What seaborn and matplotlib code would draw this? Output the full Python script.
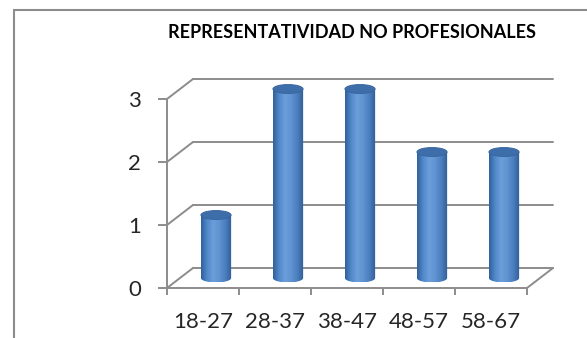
import numpy as np
import matplotlib
matplotlib.use("Agg")
import matplotlib.pyplot as plt
import seaborn as sns
from matplotlib.colors import LinearSegmentedColormap
from matplotlib.patches import Ellipse, Polygon
from matplotlib.lines import Line2D

# datos
grupos = ["18-27", "28-37", "38-47", "48-57", "58-67"]
personas = [1, 3, 3, 2, 2]
marcas_y = [0, 1, 2, 3]
titulo = "REPRESENTATIVIDAD NO PROFESIONALES"

sns.set_style("white")
plt.rcParams['font.family'] = ['Lato', 'DejaVu Sans']

gris = "#8c8c8c"
prof_x = 26 / 72   # profundidad del cuadro 3D (unidades de categoria)
prof_y = 20 / 63   # profundidad del cuadro 3D (unidades de valor)
alto_elipse = 9 / 63

fig = plt.figure(figsize=(5.87, 3.38), dpi=100)
ax = fig.add_axes([167 / 587, 50 / 338, 393 / 587, 218 / 338])

sns.barplot(x=grupos, y=personas, width=0.42, color="#4f81bd", ax=ax)

# pared del fondo y diagonales
x_izq, x_der = -0.5, len(grupos) - 0.5
for v in marcas_y:
    ax.plot([x_izq, x_izq + prof_x], [v, v + prof_y], color=gris, lw=1.4,
            clip_on=False, zorder=1)
    ax.plot([x_izq + prof_x, x_der + prof_x], [v + prof_y, v + prof_y],
            color=gris, lw=1.4, clip_on=False, zorder=1)
ax.plot([x_der, x_der + prof_x], [0, prof_y], color=gris, lw=1.4,
        clip_on=False, zorder=1)

# cilindros con degradado
cmap = LinearSegmentedColormap.from_list(
    "cil", ["#30609b", "#5089ca", "#6c9edb", "#5f92d1", "#4a7dbc", "#2f5c94"])
grad = np.linspace(0, 1, 256).reshape(1, -1)
for p in list(ax.patches):
    w = p.get_width()
    cx = p.get_x() + w / 2 + prof_x / 2
    base = prof_y / 2
    top = base + p.get_height()
    p.set_visible(False)
    t = np.linspace(np.pi, 2 * np.pi, 40)
    pts = [(cx - w / 2, top)]
    pts += list(zip(cx + w / 2 * np.cos(t), base + alto_elipse / 2 * np.sin(t)))
    pts += [(cx + w / 2, top)]
    forma = Polygon(pts, closed=True, facecolor="none", edgecolor="none")
    ax.add_patch(forma)
    img = ax.imshow(grad, cmap=cmap, aspect="auto", zorder=3,
                    extent=[cx - w / 2, cx + w / 2, base - alto_elipse / 2, top])
    img.set_clip_path(forma)
    ax.add_patch(Ellipse((cx, top), w, alto_elipse, facecolor="#3e6eaa",
                         edgecolor="#36639c", lw=0.6, zorder=4))

ax.set_xlim(-0.5, -0.5 + 393 / 72)
ax.set_ylim(0, 218 / 63)

# ejes
for s in ["top", "right"]:
    ax.spines[s].set_visible(False)
ax.spines["left"].set_bounds(0, 3)
ax.spines["bottom"].set_bounds(x_izq, x_der)
for s in ["left", "bottom"]:
    ax.spines[s].set_color(gris)
    ax.spines[s].set_linewidth(1.4)

ax.set_yticks(marcas_y)
ax.set_yticklabels([str(v) for v in marcas_y])
ax.tick_params(axis="y", which="major", length=6.5, width=1.4, color=gris,
               pad=12, labelsize=16, left=True)

ax.set_xticks(np.arange(len(grupos) + 1) - 0.5)
ax.set_xticklabels([])
ax.set_xticks(np.arange(len(grupos)), minor=True)
ax.set_xticklabels(grupos, minor=True)
ax.tick_params(axis="x", which="major", length=5, width=1.4, color=gris,
               bottom=True)
ax.tick_params(axis="x", which="minor", length=0, pad=17, labelsize=16)
ax.set_xlabel("")
ax.set_ylabel("")

# titulo y marco
fig.text(352 / 587, 1 - 32 / 338, titulo, ha="center", va="center",
         fontsize=13, fontweight="bold", color="black")
fig.add_artist(Line2D([14 / 587, 1], [1 - 10 / 338, 1 - 10 / 338],
                      color=gris, lw=1.5, transform=fig.transFigure))
fig.add_artist(Line2D([14 / 587, 14 / 587], [0, 1 - 10 / 338],
                      color=gris, lw=1.5, transform=fig.transFigure))

fig.savefig("out.png", dpi=100)
